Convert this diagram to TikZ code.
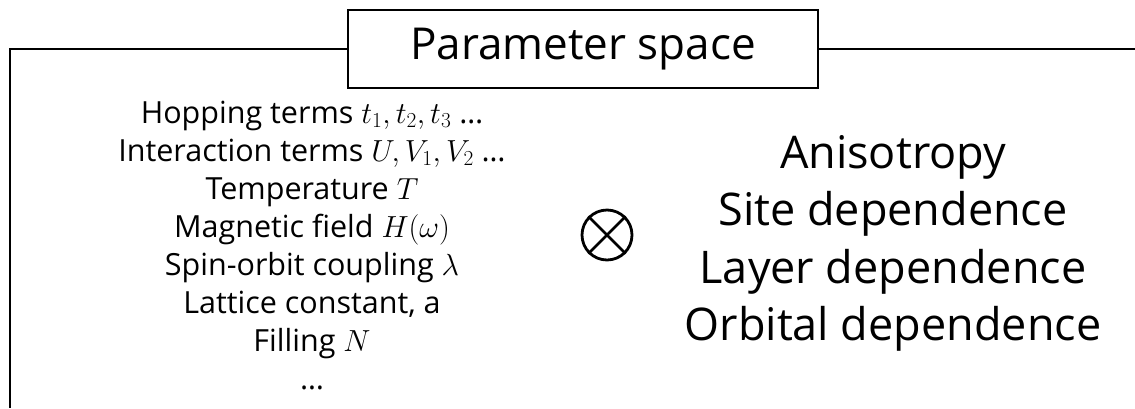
\RequirePackage{fix-cm}
\documentclass[tikz,border=0pt]{standalone}
\usepackage{fontspec}
\setmainfont{Open Sans}
\begin{document}
\begin{tikzpicture}[x=1pt,y=-1pt,
  frameline/.style={line width=2.6pt},
  titlebox/.style={draw,line width=2.6pt,minimum width=470pt,minimum height=78pt,inner sep=0pt,font=\fontsize{44}{52}\selectfont},
  leftitem/.style={anchor=base,inner sep=0pt,font=\fontsize{30.5}{38}\selectfont},
  rightitem/.style={anchor=base,inner sep=0pt,font=\fontsize{45}{57}\selectfont},
  tensor/.style={circle,draw,line width=2.8pt,minimum size=50pt,inner sep=0pt}]
\useasboundingbox (0,0) rectangle (1135,408);
% title and frame
\node[titlebox] (title) at (583,49) {Parameter space};
\coordinate (tl) at (10,49);
\coordinate (bl) at (10,408);
\coordinate (tr) at (1135,49);
\draw[frameline] (title.west) -- (tl) -- (bl);
\draw[frameline] (title.east) -- (tr);
% left list
\node[leftitem] (l1) at (312,123) {Hopping terms $t_1, t_2, t_3$ …};
\node[leftitem] (l2) at (312,161) {Interaction terms $U, V_1, V_2$ …};
\node[leftitem] (l3) at (312,199) {Temperature $T$};
\node[leftitem] (l4) at (312,237) {Magnetic field $H(\omega)$};
\node[leftitem] (l5) at (312,275) {Spin-orbit coupling $\lambda$};
\node[leftitem] (l6) at (312,313) {Lattice constant, a};
\node[leftitem] (l7) at (312,351) {Filling $N$};
\node[leftitem] (l8) at (312,389) {…};
% tensor product symbol
\node[tensor] (ot) at (607,235) {};
\draw[line width=2.8pt] (ot.north west) -- (ot.south east);
\draw[line width=2.8pt] (ot.north east) -- (ot.south west);
% right list
\node[rightitem] (r1) at (893,168) {Anisotropy};
\node[rightitem] (r2) at (893,225) {Site dependence};
\node[rightitem] (r3) at (893,283) {Layer dependence};
\node[rightitem] (r4) at (893,340) {Orbital dependence};
\end{tikzpicture}
\end{document}
